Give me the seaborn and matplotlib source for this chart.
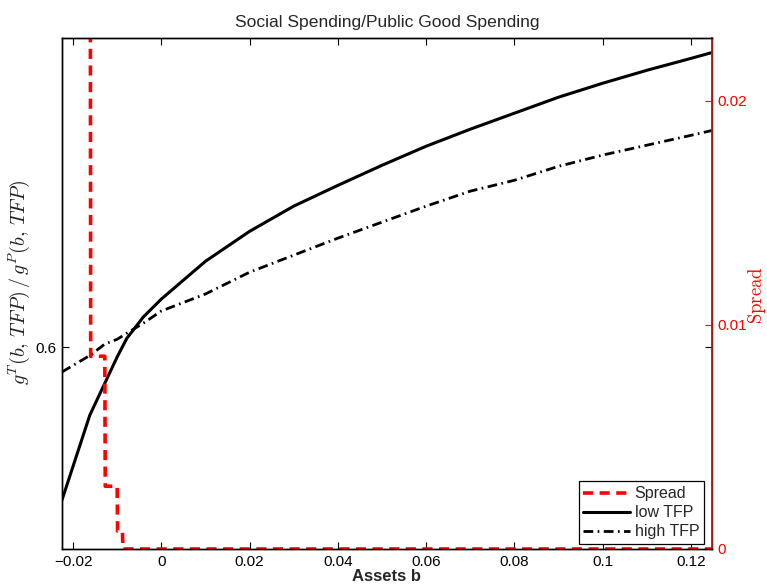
import matplotlib
matplotlib.use("Agg")
import matplotlib.pyplot as plt
import seaborn as sns
import pandas as pd

# ---- data ----
low_x = [-0.0225, -0.0162, -0.0128, -0.0100, -0.0078, -0.0041, 0.0, 0.01, 0.02, 0.03,
         0.04, 0.05, 0.06, 0.07, 0.08, 0.09, 0.10, 0.11, 0.12, 0.125]
low_tfp = [0.5551, 0.5800, 0.5894, 0.5971, 0.6026, 0.6088, 0.6141, 0.6252, 0.6340, 0.6414,
           0.6475, 0.6534, 0.6590, 0.6640, 0.6687, 0.6734, 0.6775, 0.6813, 0.6848, 0.6866]

high_x = [-0.0225, -0.0160, -0.0128, -0.0100, -0.0078, -0.0041, 0.0, 0.01, 0.02, 0.03,
          0.04, 0.05, 0.06, 0.07, 0.08, 0.09, 0.10, 0.11, 0.12, 0.125]
high_tfp = [0.5927, 0.5977, 0.6009, 0.6023, 0.6041, 0.6070, 0.6106, 0.6156, 0.6220, 0.6270,
            0.6320, 0.6367, 0.6414, 0.6458, 0.6490, 0.6531, 0.6564, 0.6593, 0.6622, 0.6637]

spread_x = [-0.0225, -0.0161, -0.0160, -0.0128, -0.0127, -0.0100, -0.0099, -0.0088, -0.0087, 0.125]
spread = [0.0300, 0.0300, 0.0086, 0.0086, 0.0028, 0.0028, 0.0008, 0.0008, 0.0, 0.0]

x_ticks = [-0.02, 0, 0.02, 0.04, 0.06, 0.08, 0.1, 0.12]
x_ticklabels = ["\u22120.02", "0", "0.02", "0.04", "0.06", "0.08", "0.1", "0.12"]
left_ticks = [0.6]
left_ticklabels = ["0.6"]
right_ticks = [0, 0.01, 0.02]
right_ticklabels = ["0", "0.01", "0.02"]

# ---- style ----
sns.set_theme(style="white")
plt.rcParams["font.family"] = ["Liberation Sans", "DejaVu Sans"]
plt.rcParams["mathtext.fontset"] = "cm"

fig = plt.figure(figsize=(7.67, 5.88), dpi=100)
ax = fig.add_axes([62 / 767, 1 - 549 / 588, (712 - 62) / 767, (549 - 38) / 588])
ax2 = ax.twinx()

df_low = pd.DataFrame({"x": low_x, "y": low_tfp})
df_high = pd.DataFrame({"x": high_x, "y": high_tfp})
df_spread = pd.DataFrame({"x": spread_x, "y": spread})

sns.lineplot(data=df_low, x="x", y="y", ax=ax, color="black", lw=2.2,
             sort=False, estimator=None, label="low TFP", legend=False)
sns.lineplot(data=df_high, x="x", y="y", ax=ax, color="black", lw=2.0,
             sort=False, estimator=None, label="high TFP", legend=False)
ax.lines[1].set_linestyle((0, (3.5, 1.6, 0.6, 1.6)))

sns.lineplot(data=df_spread, x="x", y="y", ax=ax2, color="red", lw=2.6,
             sort=False, estimator=None, label="Spread", legend=False)
ax2.lines[0].set_linestyle((0, (2.8, 1.8)))

# axes limits & ticks
ax.set_xlim(-0.0225, 0.1248)
ax.set_ylim(0.5407, 0.6908)
ax2.set_ylim(0, 0.0228)
ax.set_xticks(x_ticks)
ax.set_xticklabels(x_ticklabels)
ax.set_yticks(left_ticks)
ax.set_yticklabels(left_ticklabels)
ax2.set_yticks(right_ticks)
ax2.set_yticklabels(right_ticklabels)

for a in (ax, ax2):
    for s in a.spines.values():
        s.set_color("black")
        s.set_linewidth(1.0)
ax2.spines["right"].set_color("#b31b1b")
ax2.spines["right"].set_linewidth(1.3)

ax.tick_params(axis="both", direction="in", length=5, width=0.8, color="black",
               labelsize=11, labelcolor="black", top=True, right=True,
               bottom=True, left=True, pad=4)
ax2.tick_params(axis="y", direction="in", length=5, width=0.8, color="red",
                labelcolor="red", labelsize=11, pad=4)

ax.set_xlabel("Assets b", fontsize=12, fontweight="bold", labelpad=0)
ax.set_ylabel(r"$g^T(b,\,TFP)\,/\,g^P(b,\,TFP)$", fontsize=14.5, color="#222222")
ax.yaxis.set_label_coords(-0.046, 0.5225)
ax2.set_ylabel("")
fig.text(756.5 / 767, 1 - 295 / 588, r"$\mathrm{Spread}$", fontsize=13.5, color="red",
         rotation=90, ha="center", va="center")
ax.set_title("Social Spending/Public Good Spending", fontsize=12.6, pad=8)

ax.grid(False)
ax2.grid(False)

handles = ax2.lines[:1] + ax.lines[:2]
labels = ["Spread", "low TFP", "high TFP"]
leg = ax2.legend(handles, labels, loc="lower right",
                 bbox_to_anchor=((704 - 62) / 650, (549 - 544) / 511),
                 fontsize=11.5, frameon=True,
                 fancybox=False, edgecolor="black", handlelength=2.9,
                 labelspacing=0.25, borderpad=0.3, borderaxespad=0.0,
                 handletextpad=0.3)
leg.get_frame().set_linewidth(0.9)
leg.get_frame().set_alpha(1)

fig.savefig("out.png", dpi=100)
